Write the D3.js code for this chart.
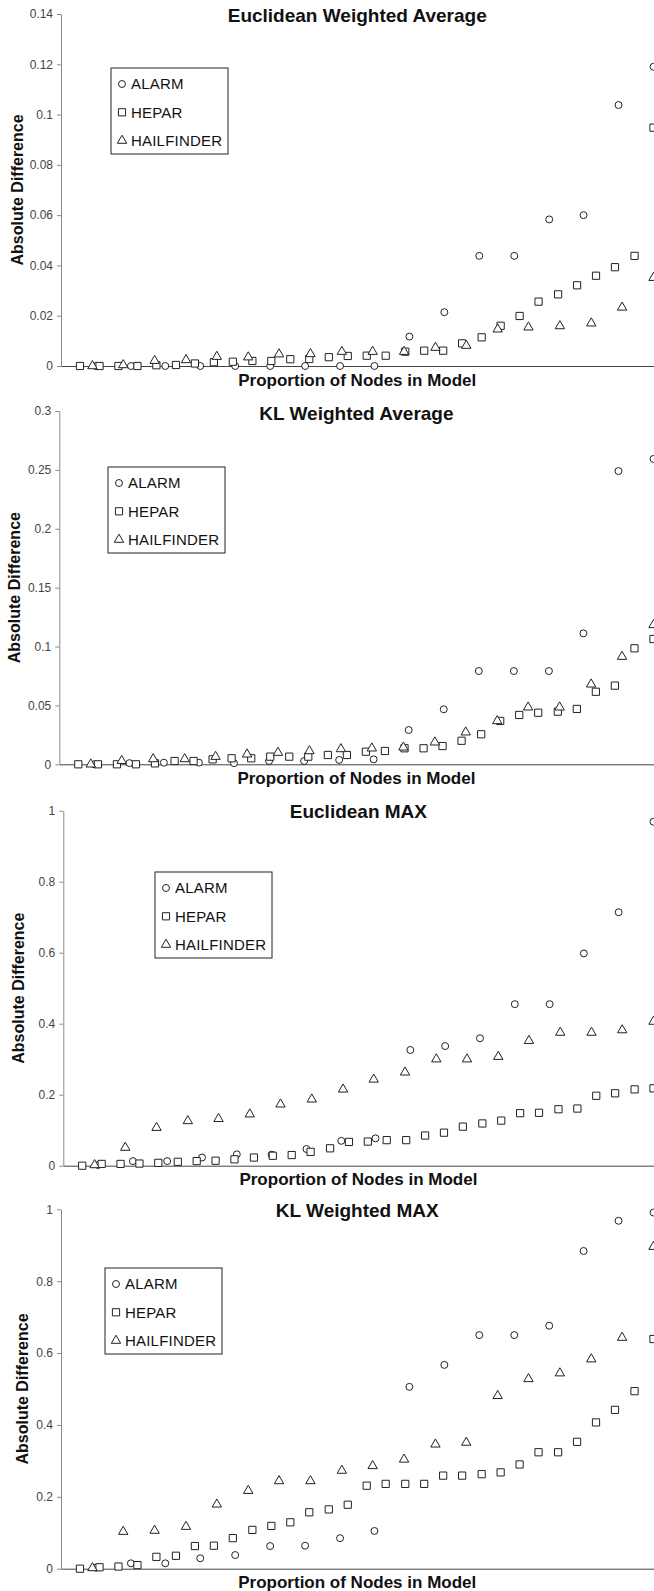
<!DOCTYPE html>
<html>
<head>
<meta charset="utf-8">
<script src="https://cdn.jsdelivr.net/npm/d3@7"></script>
<style>
  body { margin: 0; background: #fff; }
  svg { display: block; font-family: "Liberation Sans", Arial, sans-serif; }
</style>
</head>
<body>
<svg id="container" width="654" height="1591"></svg>
<script>
// proportion of nodes in model, one list per network
const alarmX = [0.059, 0.118, 0.176, 0.235, 0.294, 0.353, 0.412, 0.471, 0.529, 0.588, 0.647, 0.706, 0.765, 0.824, 0.882, 0.941, 1];
const heparX = [0.032, 0.065, 0.097, 0.129, 0.161, 0.194, 0.226, 0.258, 0.290, 0.323, 0.355, 0.387, 0.419, 0.452, 0.484, 0.516,
                0.548, 0.581, 0.613, 0.645, 0.677, 0.710, 0.742, 0.774, 0.806, 0.839, 0.871, 0.903, 0.935, 0.968, 1];
const hailX = [0.053, 0.105, 0.158, 0.211, 0.263, 0.316, 0.368, 0.421, 0.474, 0.526, 0.579, 0.632, 0.684, 0.737, 0.789, 0.842, 0.895, 0.947, 1];

const seriesNames = ["ALARM", "HEPAR", "HAILFINDER"];
const titles = ["Euclidean Weighted Average", "KL Weighted Average", "Euclidean MAX", "KL Weighted MAX"];

// Euclidean weighted average
const ewaAlarm = [0, 0, 0, 0, 0, 0, 0, 0, 0, 0.0117, 0.0214, 0.0438, 0.0438, 0.0583, 0.0600, 0.1038, 0.119];
const ewaHepar = [0, 0, 0, 0, 0.0003, 0.0004, 0.001, 0.0015, 0.0017, 0.002, 0.002, 0.0027, 0.0028, 0.0035, 0.004, 0.0041,
                  0.0041, 0.0057, 0.0061, 0.0061, 0.009, 0.0114, 0.016, 0.0199, 0.0256, 0.0285, 0.0321, 0.0359, 0.0393, 0.0438, 0.0948];
const ewaHail = [0, 0.0004, 0.0021, 0.0024, 0.0037, 0.0035, 0.0047, 0.0048, 0.0057, 0.0057, 0.0057, 0.0073, 0.0081, 0.0146,
                 0.0154, 0.0159, 0.017, 0.0233, 0.0351];

// KL weighted average
const klwaAlarm = [0, 0.001, 0.0014, 0.0014, 0.001, 0.0028, 0.0028, 0.0037, 0.0042, 0.0291, 0.0467, 0.0792, 0.0792, 0.0792, 0.1112, 0.249, 0.2593];
const klwaHepar = [0, 0, 0, 0, 0.0008, 0.0028, 0.0028, 0.0042, 0.0051, 0.0051, 0.0065, 0.0065, 0.0065, 0.0079, 0.0079, 0.0107,
                   0.0113, 0.0136, 0.0136, 0.0155, 0.02, 0.0255, 0.0368, 0.0419, 0.0438, 0.0447, 0.047, 0.0616, 0.0668, 0.0985, 0.1064];
const klwaHail = [0, 0.003, 0.0045, 0.0045, 0.0065, 0.0085, 0.0099, 0.0113, 0.013, 0.0136, 0.0144, 0.0187, 0.0272, 0.0368,
                  0.0484, 0.0484, 0.0679, 0.0914, 0.1183];

// Euclidean MAX
const emaxAlarm = [0.002, 0.013, 0.013, 0.023, 0.032, 0.031, 0.047, 0.070, 0.077, 0.326, 0.337, 0.359, 0.455, 0.455, 0.598, 0.714, 0.969];
const emaxHepar = [0, 0.005, 0.005, 0.006, 0.008, 0.011, 0.013, 0.014, 0.018, 0.023, 0.028, 0.030, 0.039, 0.049, 0.067, 0.068,
                   0.072, 0.072, 0.085, 0.093, 0.110, 0.119, 0.127, 0.148, 0.149, 0.159, 0.161, 0.197, 0.204, 0.215, 0.218];
const emaxHail = [0.002, 0.051, 0.107, 0.126, 0.132, 0.145, 0.173, 0.187, 0.215, 0.243, 0.263, 0.300, 0.300, 0.307, 0.352,
                  0.375, 0.375, 0.382, 0.406];

// KL weighted MAX
const klmaxAlarm = [0.003, 0.015, 0.015, 0.029, 0.038, 0.063, 0.064, 0.085, 0.105, 0.506, 0.567, 0.650, 0.650, 0.676, 0.884, 0.968, 0.991];
const klmaxHepar = [0, 0.004, 0.006, 0.010, 0.033, 0.036, 0.063, 0.064, 0.085, 0.108, 0.119, 0.129, 0.157, 0.165, 0.178, 0.231,
                    0.236, 0.236, 0.236, 0.259, 0.259, 0.263, 0.268, 0.290, 0.324, 0.324, 0.353, 0.407, 0.442, 0.494, 0.639];
const klmaxHail = [0.002, 0.103, 0.106, 0.117, 0.179, 0.217, 0.244, 0.244, 0.273, 0.286, 0.304, 0.346, 0.351, 0.481, 0.528,
                   0.544, 0.583, 0.643, 0.896];

const ewaTicks = [0, 0.02, 0.04, 0.06, 0.08, 0.1, 0.12, 0.14];
const klwaTicks = [0, 0.05, 0.1, 0.15, 0.2, 0.25, 0.3];
const maxTicks = [0, 0.2, 0.4, 0.6, 0.8, 1];

const svg = d3.select('#container');
const plotRight = 653.5;
const markStroke = "#222";

// page layout of each panel
const panels = [
  { title: titles[0], values: [ewaAlarm, ewaHepar, ewaHail], ticks: ewaTicks,
    top: 14, bottom: 366, left: 61, titleY: 22, xLabelY: 386, yLabelX: 17, legend: [111, 68] },
  { title: titles[1], values: [klwaAlarm, klwaHepar, klwaHail], ticks: klwaTicks,
    top: 411, bottom: 764.3, left: 59.3, titleY: 420, xLabelY: 784, yLabelX: 14, legend: [108, 467] },
  { title: titles[2], values: [emaxAlarm, emaxHepar, emaxHail], ticks: maxTicks,
    top: 810.7, bottom: 1165.7, left: 63.3, titleY: 818, xLabelY: 1185, yLabelX: 18, legend: [155, 872] },
  { title: titles[3], values: [klmaxAlarm, klmaxHepar, klmaxHail], ticks: maxTicks,
    top: 1209.3, bottom: 1568.7, left: 61, titleY: 1217, xLabelY: 1588, yLabelX: 22, legend: [105, 1268] }
];

const xs = [alarmX, heparX, hailX];
const shapes = [d3.symbolCircle, d3.symbolSquare, d3.symbolTriangle];
const sizes = [38, 52, 38];

function symbolPath(i) {
  return d3.symbol().type(shapes[i]).size(sizes[i])();
}

panels.forEach(p => drawPanel(p));

function drawPanel(p) {
  const x = d3.scaleLinear().domain([0, 1]).range([p.left, plotRight]);
  const y = d3.scaleLinear().domain([0, d3.max(p.ticks)]).range([p.bottom, p.top]);
  const g = svg.append('g');

  // y axis
  const yAxis = g.append('g')
    .attr('transform', `translate(${p.left},0)`)
    .call(d3.axisLeft(y).tickValues(p.ticks).tickSize(4).tickSizeOuter(0).tickPadding(4)
      .tickFormat(d => String(+d.toFixed(2))));
  yAxis.select('.domain').attr('stroke', '#8a8a8a');
  yAxis.selectAll('.tick line').attr('stroke', '#8a8a8a');
  yAxis.selectAll('.tick text')
    .attr('font-family', '"Liberation Sans", Arial, sans-serif')
    .attr('font-size', 12)
    .attr('fill', '#444');

  // x axis, no ticks
  const xAxis = g.append('g')
    .attr('transform', `translate(0,${p.bottom})`)
    .call(d3.axisBottom(x).tickValues([]).tickSizeOuter(0));
  xAxis.select('.domain').attr('stroke', '#444');

  // points
  p.values.forEach((vals, i) => {
    g.append('g')
      .selectAll('path')
      .data(vals)
      .join('path')
      .attr('d', symbolPath(i))
      .attr('transform', (d, j) => `translate(${x(xs[i][j])},${y(d)})`)
      .attr('fill', '#fff')
      .attr('stroke', markStroke)
      .attr('stroke-width', 1);
  });

  // title
  g.append('text')
    .text(p.title)
    .attr('x', (p.left + plotRight) / 2)
    .attr('y', p.titleY)
    .attr('text-anchor', 'middle')
    .attr('font-weight', 'bold')
    .attr('font-size', 19)
    .attr('fill', '#111');

  // axis labels
  g.append('text')
    .text('Proportion of Nodes in Model')
    .attr('x', (p.left + plotRight) / 2)
    .attr('y', p.xLabelY)
    .attr('text-anchor', 'middle')
    .attr('font-weight', 'bold')
    .attr('font-size', 17)
    .attr('fill', '#111');

  g.append('text')
    .text('Absolute Difference')
    .attr('transform', `translate(${p.yLabelX},${(p.top + p.bottom) / 2}) rotate(-90)`)
    .attr('text-anchor', 'middle')
    .attr('dy', '0.36em')
    .attr('font-weight', 'bold')
    .attr('font-size', 16)
    .attr('fill', '#111');

  // legend
  const lg = g.append('g').attr('transform', `translate(${p.legend[0]},${p.legend[1]})`);
  lg.append('rect')
    .attr('width', 117)
    .attr('height', 86)
    .attr('fill', '#fff')
    .attr('stroke', '#222')
    .attr('stroke-width', 1);
  seriesNames.forEach((name, i) => {
    const row = lg.append('g').attr('transform', `translate(0,${16 + i * 28.3})`);
    row.append('path')
      .attr('d', symbolPath(i))
      .attr('transform', 'translate(11,0)')
      .attr('fill', '#fff')
      .attr('stroke', markStroke);
    row.append('text')
      .text(name)
      .attr('x', 20)
      .attr('dy', '0.36em')
      .attr('font-size', 15)
      .attr('letter-spacing', 0.2)
      .attr('fill', '#111');
  });
}
</script>
</body>
</html>
